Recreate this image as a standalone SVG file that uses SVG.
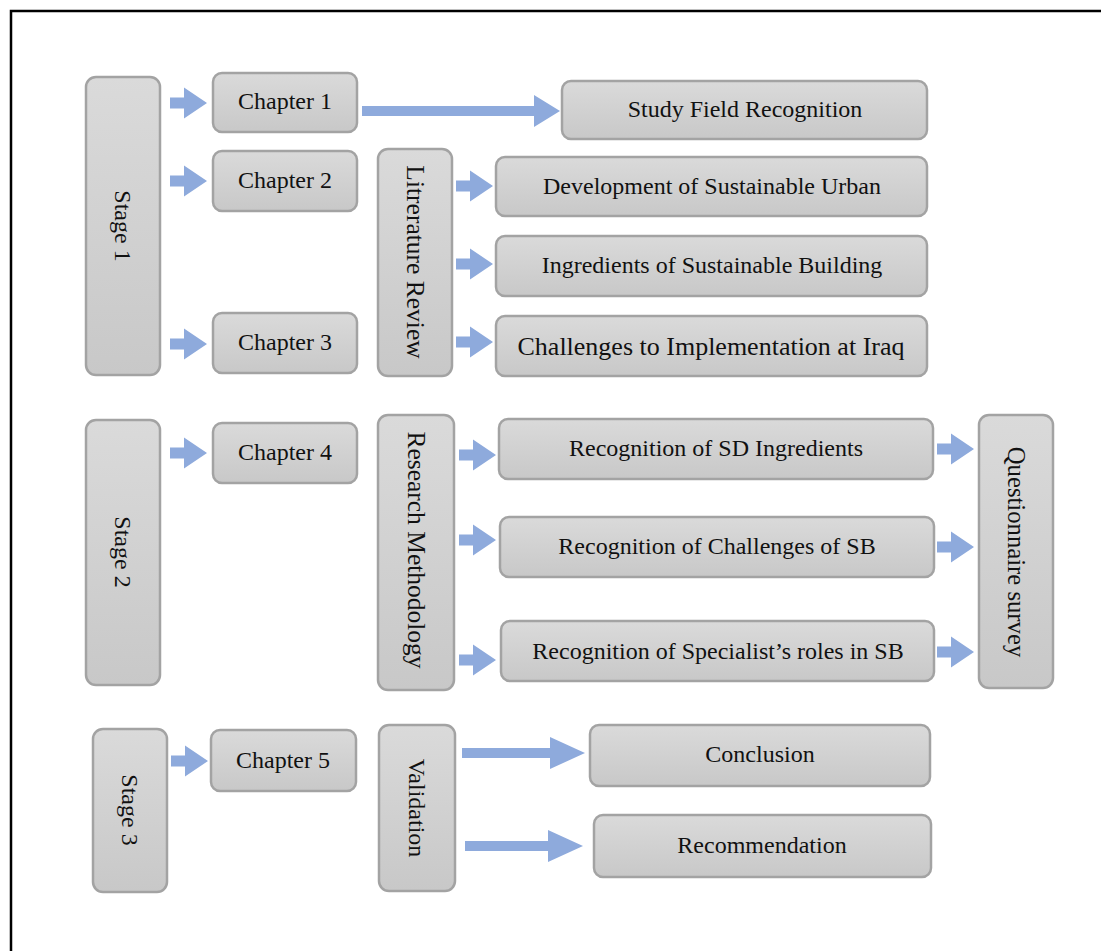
<svg xmlns="http://www.w3.org/2000/svg" xmlns:xlink="http://www.w3.org/1999/xlink" width="1101" height="951" viewBox="0 0 1101 951">
<style>
.box{fill:url(#g);stroke:#a3a3a3;stroke-width:2.5}
.t{font-family:"Liberation Serif","Times New Roman",serif;font-size:24px;fill:#111;text-anchor:middle;dominant-baseline:central}
.ar{fill:#8eaadc}
</style>
<defs>
<linearGradient id="g" x1="0" y1="0" x2="0" y2="1">
<stop offset="0" stop-color="#dadada"/>
<stop offset="1" stop-color="#c8c8c8"/>
</linearGradient>
<path id="sa" d="M0,-5.5 H14 V-15.5 L37,0 L14,15.5 V5.5 H0 Z"/>
</defs>
<rect width="1101" height="951" fill="#fff"/>
<path d="M11,951 V11 H1101" fill="none" stroke="#000" stroke-width="2.5"/>

<g id="connectors" class="ar">
<use href="#sa" x="170" y="103"/>
<use href="#sa" x="170" y="181"/>
<use href="#sa" x="170" y="344"/>
<use href="#sa" x="170" y="453"/>
<use href="#sa" x="171" y="761"/>
<use href="#sa" x="456" y="186"/>
<use href="#sa" x="456" y="264"/>
<use href="#sa" x="456" y="342"/>
<use href="#sa" x="459" y="455"/>
<use href="#sa" x="459" y="540"/>
<use href="#sa" x="459" y="660"/>
<use href="#sa" x="937" y="449"/>
<use href="#sa" x="937" y="547"/>
<use href="#sa" x="937" y="652"/>
<path d="M362,106 H534 V95 L560,111 L534,127 V116 H362 Z"/>
<path d="M462,748 H550 V737 L585,753 L550,769 V758 H462 Z"/>
<path d="M465,841 H548 V830 L583,846 L548,862 V851 H465 Z"/>
</g>

<g id="stage1"><rect class="box" x="86" y="77" width="74" height="298" rx="10"/><text class="t" transform="translate(123,226) rotate(90)">Stage 1</text></g>
<g id="chapter1"><rect class="box" x="213" y="73" width="144" height="59" rx="9"/><text class="t" x="285" y="101">Chapter 1</text></g>
<g id="study"><rect class="box" x="562" y="81" width="365" height="58" rx="9"/><text class="t" x="745" y="109">Study Field Recognition</text></g>
<g id="chapter2"><rect class="box" x="213" y="151" width="144" height="60" rx="9"/><text class="t" x="285" y="180">Chapter 2</text></g>
<g id="litreview"><rect class="box" x="378" y="149" width="74" height="227" rx="10"/><text class="t" transform="translate(415,262) rotate(90)" style="font-size:25.5px">Litrerature Review</text></g>
<g id="dev"><rect class="box" x="496" y="157" width="431" height="59" rx="9"/><text class="t" x="712" y="186">Development of Sustainable Urban</text></g>
<g id="ingr"><rect class="box" x="496" y="236" width="431" height="60" rx="9"/><text class="t" x="712" y="265">Ingredients of Sustainable Building</text></g>
<g id="chapter3"><rect class="box" x="213" y="313" width="144" height="60" rx="9"/><text class="t" x="285" y="342">Chapter 3</text></g>
<g id="chal"><rect class="box" x="496" y="316" width="431" height="60" rx="9"/><text class="t" x="711" y="346" style="font-size:26px">Challenges to Implementation at Iraq</text></g>

<g id="stage2"><rect class="box" x="86" y="420" width="74" height="265" rx="10"/><text class="t" transform="translate(123,552) rotate(90)">Stage 2</text></g>
<g id="chapter4"><rect class="box" x="213" y="423" width="144" height="60" rx="9"/><text class="t" x="285" y="452">Chapter 4</text></g>
<g id="resmeth"><rect class="box" x="378" y="415" width="76" height="275" rx="10"/><text class="t" transform="translate(416,550) rotate(90)" style="font-size:25.5px">Research Methodology</text></g>
<g id="sd"><rect class="box" x="499" y="419" width="434" height="60" rx="9"/><text class="t" x="716" y="448">Recognition of SD Ingredients</text></g>
<g id="csb"><rect class="box" x="500" y="517" width="434" height="60" rx="9"/><text class="t" x="717" y="546">Recognition of Challenges of SB</text></g>
<g id="spec"><rect class="box" x="501" y="621" width="433" height="60" rx="9"/><text class="t" x="718" y="651">Recognition of Specialist’s roles in SB</text></g>
<g id="quest"><rect class="box" x="979" y="415" width="74" height="273" rx="10"/><text class="t" transform="translate(1016,552) rotate(90)" style="font-size:24.7px">Questionnaire survey</text></g>

<g id="stage3"><rect class="box" x="93" y="729" width="74" height="163" rx="10"/><text class="t" transform="translate(130,810) rotate(90)">Stage 3</text></g>
<g id="chapter5"><rect class="box" x="211" y="730" width="145" height="61" rx="9"/><text class="t" x="283" y="760">Chapter 5</text></g>
<g id="validation"><rect class="box" x="379" y="725" width="76" height="166" rx="10"/><text class="t" transform="translate(417,808) rotate(90)">Validation</text></g>
<g id="conclusion"><rect class="box" x="590" y="725" width="340" height="61" rx="9"/><text class="t" x="760" y="754">Conclusion</text></g>
<g id="recommendation"><rect class="box" x="594" y="815" width="337" height="62" rx="9"/><text class="t" x="762" y="845">Recommendation</text></g>
</svg>
